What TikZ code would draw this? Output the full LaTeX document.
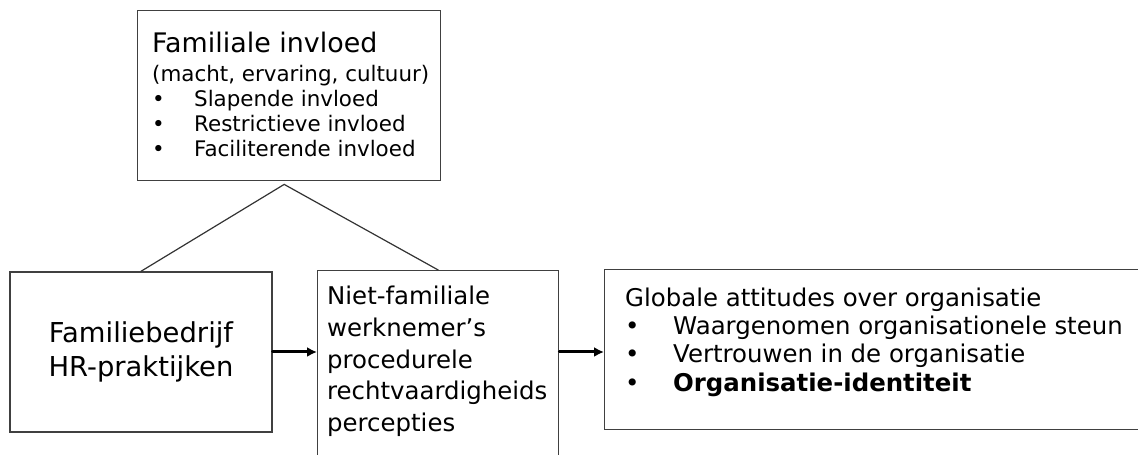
\documentclass[tikz,border=0pt]{standalone}
\usepackage{fontspec}
\setmainfont{DejaVu Sans}
\usepackage{tikz}
\usetikzlibrary{arrows.meta}
\usepackage{xcolor}

\begin{document}
\begin{tikzpicture}[x=1bp,y=-1bp,>={Latex[length=10bp,width=10bp]},line cap=round,
  box/.style={draw=black!75,line width=1.4bp,inner sep=0pt},
  flow/.style={->,line width=3bp},
  link/.style={black!80,line width=1.2bp}]
\useasboundingbox (0,0) rectangle (1138,455);
\clip (0,0) rectangle (1138,455);
\node[box,minimum width=303bp,minimum height=170bp,anchor=north west] (infl) at (137,10) {};
\node[anchor=north west,inner sep=0pt,align=left,font=\fontsize{21.5}{25}\selectfont]
  (inflTxt) at ([shift={(15bp,-22bp)}]infl.north west)
  {{\fontsize{27}{29}\selectfont Familiale invloed}\\[4bp]
   (macht, ervaring, cultuur)\\
   \makebox[42bp][l]{•}Slapende invloed\\
   \makebox[42bp][l]{•}Restrictieve invloed\\
   \makebox[42bp][l]{•}Faciliterende invloed};
\node[box,minimum width=262bp,minimum height=160bp,align=center,
  font=\fontsize{27.5}{35}\selectfont] (firm) at (141,352) {Familiebedrijf\\HR-praktijken};
\node[box,minimum width=241bp,minimum height=200bp,anchor=north west] (perc) at (317,270) {};
\node[anchor=north west,inner sep=0pt,align=left,font=\fontsize{24.5}{32}\selectfont]
  (percTxt) at ([shift={(10bp,-15.5bp)}]perc.north west)
  {Niet-familiale\\werknemer’s\\procedurele\\rechtvaardigheids\\percepties};
\node[box,minimum width=560bp,minimum height=160bp,anchor=north west] (attit) at (604,269) {};
\node[anchor=north west,inner sep=0pt,align=left,font=\fontsize{24.5}{28.5}\selectfont]
  (attitTxt) at ([shift={(21bp,-18.4bp)}]attit.north west)
  {Globale attitudes over organisatie\\
   \makebox[48bp][l]{•}Waargenomen organisationele steun\\
   \makebox[48bp][l]{•}Vertrouwen in de organisatie\\
   \makebox[48bp][l]{•}\textbf{Organisatie-identiteit}};
% verbindingen
\draw[link] (firm.north) -- ([xshift=-5bp,yshift=-3bp]infl.south) -- (perc.north);
\draw[flow] (firm.east) -- (firm.east -| perc.west);
\draw[flow] (firm.east -| perc.east) -- (firm.east -| attit.west);
\end{tikzpicture}
\end{document}
